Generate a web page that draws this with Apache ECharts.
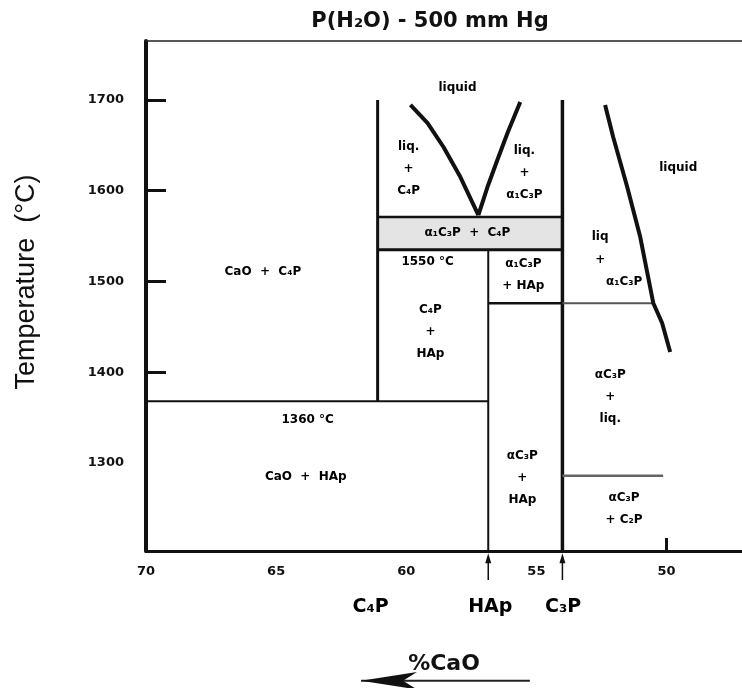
<!DOCTYPE html>
<html><head><meta charset="utf-8">
<script src="https://cdn.jsdelivr.net/npm/echarts@6/dist/echarts.min.js"></script>
<style>html,body{margin:0;padding:0;background:#fff}#c{width:742px;height:688px}</style>
</head><body><div id="c"></div>
<script>
// ---- data (x = %CaO, y = temperature °C) ----
const xTicks = [70, 65, 60, 55, 50];
const yTicks = [1300, 1400, 1500, 1600, 1700];
const yTickMarks = [1400, 1500, 1600, 1700];
const xTickMarks = [50];

const xC4P = 61.1, xHAp = 56.85, xC3P = 54.0;

// boundary lines
const lineC4P = [[61.1, 1700], [61.1, 1368]];
const line1360 = [[70, 1368], [56.85, 1368]];
const lineHAp = [[56.85, 1535], [56.85, 1203]];
const lineC3P = [[54.0, 1700], [54.0, 1203]];
const line1571 = [[61.1, 1571], [54.0, 1571]];
const line1550 = [[61.1, 1535], [54.0, 1535]];
const line1476a = [[56.85, 1476], [54.0, 1476]];
const line1476b = [[54.0, 1476], [50.51, 1476]];
const line1286 = [[54.0, 1286], [50.13, 1286]];

// liquidus curves
const liqLeft = [[59.84, 1694.5], [59.18, 1674.6], [58.57, 1648.2], [57.92, 1615.1], [57.23, 1573.2]];
const liqRight = [[57.23, 1573.2], [56.88, 1604.1], [56.50, 1633.8], [56.11, 1663.6], [55.62, 1697.8]];
const liqC3P = [[52.36, 1694.5], [52.05, 1659.2], [51.51, 1604.1], [51.01, 1549.0], [50.51, 1476.3], [50.17, 1454.2], [49.86, 1422.3]];

// shaded band
const band = [[61.1, 1571], [54.0, 1535]];

// region labels [x, t, text]
const regionLabels = [
  [58.03, 1713, 'liquid'],
  [49.55, 1625, 'liquid'],
  [59.91, 1624, 'liq.\n+\nC₄P'],
  [55.46, 1619.5, 'liq.\n+\nα₁C₃P'],
  [57.65, 1553.4, 'α₁C₃P  +  C₄P'],
  [59.18, 1521.5, '1550 °C'],
  [59.07, 1444.3, 'C₄P\n+\nHAp'],
  [55.50, 1507.1, 'α₁C₃P\n+ HAp'],
  [52.55, 1549.0, 'liq'],
  [52.55, 1523.7, '+'],
  [51.63, 1499.4, 'α₁C₃P'],
  [65.51, 1510.4, 'CaO  +  C₄P'],
  [63.79, 1347.4, '1360 °C'],
  [63.86, 1284.5, 'CaO  +  HAp'],
  [55.54, 1283.4, 'αC₃P\n+\nHAp'],
  [52.16, 1372.7, 'αC₃P\n+\nliq.'],
  [51.63, 1249.3, 'αC₃P\n+ C₂P']
];

// compound labels under the axis
const compoundLabels = [[61.37, 1141, 'C₄P'], [56.77, 1141, 'HAp'], [53.97, 1141, 'C₃P']];
const compoundArrowTop = 1195, compoundArrowBottom = 1171;

// direction arrow for %CaO
const dirArrowT = 1060, dirArrowFrom = 55.25, dirArrowTo = 61.74;

// ---- chart ----
const chart = echarts.init(document.getElementById('c'));
const FONT = 'DejaVu Sans, Liberation Sans, sans-serif';
const FONT2 = 'Liberation Sans, Arial, sans-serif';

function seg(pts, w, color) {
  return {
    type: 'line', data: pts, symbol: 'none', silent: true, animation: false,
    lineStyle: { width: w, color: color || '#111' }, z: 3
  };
}

const series = [
  seg(lineC4P, 3), seg(line1360, 2), seg(lineHAp, 2), seg(lineC3P, 3.5),
  seg(line1571, 2.5), seg(line1550, 3), seg(line1476a, 2.5),
  seg(line1476b, 2, '#555'), seg(line1286, 2.5, '#666'),
  seg(liqLeft, 4), seg(liqRight, 4), seg(liqC3P, 4),
  {
    type: 'line', data: [], symbol: 'none', silent: true, animation: false,
    markArea: { silent: true, itemStyle: { color: '#e4e4e4' },
      data: [[{ coord: band[0] }, { coord: band[1] }]] }, z: 1
  },
  {
    type: 'scatter', symbolSize: 0, silent: true, animation: false, z: 5,
    itemStyle: { opacity: 1 },
    data: regionLabels.map(d => ({ value: [d[0], d[1]], name: d[2] })),
    label: { show: true, position: 'inside', formatter: '{b}', color: '#000', opacity: 1,
      fontFamily: FONT, fontWeight: 'bold', fontSize: 12, lineHeight: 22 }
  },
  {
    type: 'scatter', symbolSize: 0, silent: true, animation: false, clip: false, z: 5,
    itemStyle: { opacity: 1 },
    data: compoundLabels.map(d => ({ value: [d[0], d[1]], name: d[2] })),
    label: { show: true, position: 'inside', formatter: '{b}', color: '#000', opacity: 1,
      fontFamily: FONT, fontWeight: 'bold', fontSize: 19 }
  }
];

[xHAp, xC3P].forEach(x => {
  series.push({
    type: 'line', clip: false, silent: true, animation: false, z: 6,
    lineStyle: { width: 1.5, color: '#111' }, itemStyle: { color: '#111', opacity: 1 },
    showSymbol: true,
    data: [
      { value: [x, compoundArrowBottom], symbol: 'none' },
      { value: [x, compoundArrowTop], symbol: 'triangle', symbolSize: [6, 10] }
    ]
  });
});

series.push({
  type: 'line', clip: false, silent: true, animation: false, z: 4,
  lineStyle: { width: 2, color: '#222' }, itemStyle: { color: '#111', opacity: 1 },
  showSymbol: true,
  data: [
    { value: [dirArrowFrom, dirArrowT], symbol: 'none' },
    { value: [dirArrowTo, dirArrowT], symbol: 'arrow', symbolSize: [13, 56], symbolRotate: 90 }
  ]
});

chart.setOption({
  animation: false,
  backgroundColor: '#fff',
  title: {
    text: 'P(H₂O) - 500 mm Hg', left: 425, top: 6, textAlign: 'center',
    textStyle: { fontFamily: FONT, fontSize: 21, fontWeight: 'bold', color: '#111' }
  },
  grid: { left: 146, right: 0, top: 41, bottom: 137 },
  xAxis: [{
    type: 'value', min: 47.1, max: 70, inverse: true,
    axisLine: { show: true, lineStyle: { width: 3, color: '#111' } },
    axisTick: { show: true, inside: true, length: 13, customValues: xTickMarks, lineStyle: { width: 3, color: '#111' } },
    axisLabel: { customValues: xTicks, margin: 14, fontFamily: FONT, fontSize: 13, fontWeight: 'bold', color: '#111' },
    splitLine: { show: false },
    name: '%CaO', nameLocation: 'middle', nameGap: 102,
    nameTextStyle: { fontFamily: FONT, fontSize: 22, fontWeight: 'bold', color: '#111' }
  }, {
    type: 'value', min: 47.1, max: 70, inverse: true, position: 'top',
    axisLine: { show: true, lineStyle: { width: 1.5, color: '#222' } },
    axisTick: { show: false }, axisLabel: { show: false }, splitLine: { show: false }
  }],
  yAxis: {
    type: 'value', min: 1203, max: 1765,
    axisLine: { show: true, lineStyle: { width: 4, color: '#111' } },
    axisTick: { show: true, inside: true, length: 20, customValues: yTickMarks, lineStyle: { width: 3, color: '#111' } },
    axisLabel: { customValues: yTicks, margin: 22, fontFamily: FONT, fontSize: 13, fontWeight: 'bold', color: '#111',
      formatter: v => String(v) },
    splitLine: { show: false },
    name: 'Temperature  (°C)', nameLocation: 'middle', nameGap: 106, nameRotate: 90,
    nameTextStyle: { fontFamily: FONT2, fontSize: 27, color: '#111', padding: [0, 0, 0, 28] }
  },
  series: series
});
</script>
</body></html>
